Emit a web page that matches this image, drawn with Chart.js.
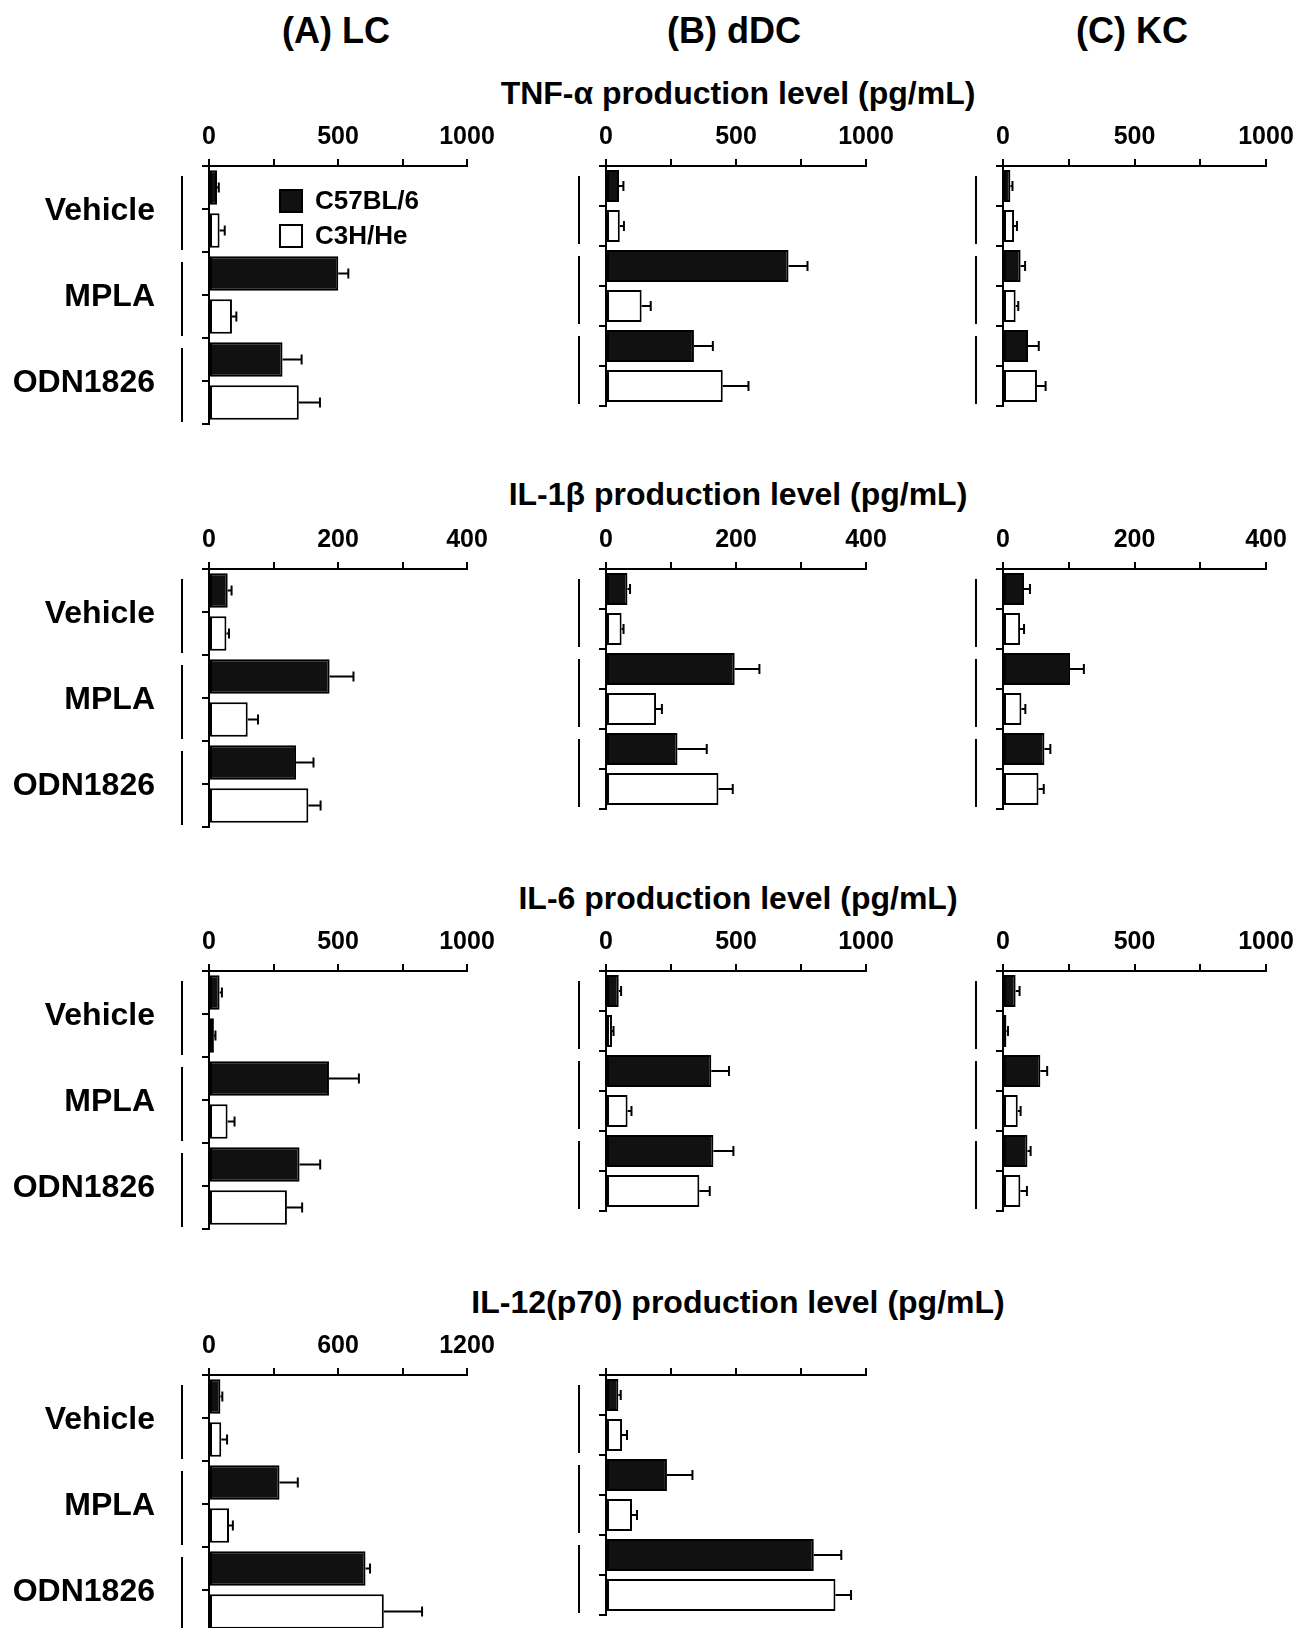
<!DOCTYPE html>
<html>
<head>
<meta charset="utf-8">
<script src="https://cdn.jsdelivr.net/npm/chart.js@4.4.0/dist/chart.umd.min.js"></script>
<style>
  body { margin: 0; background: #fff; }
  #page { position: relative; width: 1299px; height: 1628px; overflow: hidden;
          font-family: "Liberation Sans", Arial, sans-serif; font-weight: bold; color: #000; }
  .title { position: absolute; transform: translate(-50%, -50%); white-space: nowrap; line-height: 1; }
  canvas { position: absolute; }
</style>
</head>
<body>
<div id="page"></div>
<script>
const treatments = ['Vehicle', 'MPLA', 'ODN1826'];
const strains = ['C57BL/6', 'C3H/He'];
const cellTypes = ['(A) LC', '(B) dDC', '(C) KC'];
const cytokines = ['TNF-α production level (pg/mL)', 'IL-1β production level (pg/mL)',
                   'IL-6 production level (pg/mL)', 'IL-12(p70) production level (pg/mL)'];

// labelled x ticks for each cytokine row
const tnfTicks = [0, 500, 1000];
const il1bTicks = [0, 200, 400];
const il6Ticks = [0, 500, 1000];
const il12Ticks = [0, 600, 1200];

// mean and error per treatment (Vehicle, MPLA, ODN1826)
const tnfLcB6 = [31, 501, 285],   tnfLcB6Err = [7, 39, 74];
const tnfLcC3h = [41, 89, 348],   tnfLcC3hErr = [20, 17, 82];
const tnfDdcB6 = [50, 702, 338],  tnfDdcB6Err = [17, 73, 73];
const tnfDdcC3h = [53, 137, 449], tnfDdcC3hErr = [16, 35, 99];
const tnfKcB6 = [28, 67, 95],     tnfKcB6Err = [8, 17, 41];
const tnfKcC3h = [42, 48, 129],   tnfKcC3hErr = [11, 10, 33];

const il1bLcB6 = [29, 187, 135],  il1bLcB6Err = [6, 37, 27];
const il1bLcC3h = [27, 60, 154],  il1bLcC3hErr = [4, 16, 19];
const il1bDdcB6 = [33, 198, 110], il1bDdcB6Err = [4, 38, 45];
const il1bDdcC3h = [24, 77, 173], il1bDdcC3hErr = [3, 9, 22];
const il1bKcB6 = [32, 102, 63],   il1bKcB6Err = [9, 21, 9];
const il1bKcC3h = [26, 28, 54],   il1bKcC3hErr = [6, 6, 8];

const il6LcB6 = [41, 465, 351],   il6LcB6Err = [9, 116, 80];
const il6LcC3h = [19, 72, 302],   il6LcC3hErr = [6, 27, 59];
const il6DdcB6 = [49, 405, 413],  il6DdcB6Err = [9, 68, 77];
const il6DdcC3h = [23, 83, 359],  il6DdcC3hErr = [6, 15, 40];
const il6KcB6 = [48, 142, 93],    il6KcB6Err = [15, 26, 12];
const il6KcC3h = [13, 56, 66],    il6KcC3hErr = [6, 11, 25];

const il12LcB6 = [53, 328, 728],   il12LcB6Err = [9, 85, 21];
const il12LcC3h = [57, 93, 813],   il12LcC3hErr = [27, 18, 178];
const il12DdcB6 = [57, 281, 959],  il12DdcB6Err = [11, 118, 127];
const il12DdcC3h = [74, 120, 1059], il12DdcC3hErr = [23, 23, 72];

// page layout
const family = '"Liberation Sans", Arial, sans-serif';
const colLeft = [209, 606, 1003];
const colRight = [467, 866, 1266];
const colHeight = [258, 240, 240];
const rowTop = [166, 569, 971, 1375];
const colTitleX = [336, 734, 1132];
const rowTitleY = [93, 494, 898, 1302];

const panels = [
  { row: 0, col: 0, ticks: tnfTicks, b6: tnfLcB6, b6Err: tnfLcB6Err, c3h: tnfLcC3h, c3hErr: tnfLcC3hErr },
  { row: 0, col: 1, ticks: tnfTicks, b6: tnfDdcB6, b6Err: tnfDdcB6Err, c3h: tnfDdcC3h, c3hErr: tnfDdcC3hErr },
  { row: 0, col: 2, ticks: tnfTicks, b6: tnfKcB6, b6Err: tnfKcB6Err, c3h: tnfKcC3h, c3hErr: tnfKcC3hErr },
  { row: 1, col: 0, ticks: il1bTicks, b6: il1bLcB6, b6Err: il1bLcB6Err, c3h: il1bLcC3h, c3hErr: il1bLcC3hErr },
  { row: 1, col: 1, ticks: il1bTicks, b6: il1bDdcB6, b6Err: il1bDdcB6Err, c3h: il1bDdcC3h, c3hErr: il1bDdcC3hErr },
  { row: 1, col: 2, ticks: il1bTicks, b6: il1bKcB6, b6Err: il1bKcB6Err, c3h: il1bKcC3h, c3hErr: il1bKcC3hErr },
  { row: 2, col: 0, ticks: il6Ticks, b6: il6LcB6, b6Err: il6LcB6Err, c3h: il6LcC3h, c3hErr: il6LcC3hErr },
  { row: 2, col: 1, ticks: il6Ticks, b6: il6DdcB6, b6Err: il6DdcB6Err, c3h: il6DdcC3h, c3hErr: il6DdcC3hErr },
  { row: 2, col: 2, ticks: il6Ticks, b6: il6KcB6, b6Err: il6KcB6Err, c3h: il6KcC3h, c3hErr: il6KcC3hErr },
  { row: 3, col: 0, ticks: il12Ticks, b6: il12LcB6, b6Err: il12LcB6Err, c3h: il12LcC3h, c3hErr: il12LcC3hErr },
  { row: 3, col: 1, ticks: il12Ticks, b6: il12DdcB6, b6Err: il12DdcB6Err, c3h: il12DdcC3h, c3hErr: il12DdcC3hErr, noLabels: true }
];

const page = document.getElementById('page');

function addTitle(text, x, y, size) {
  const d = document.createElement('div');
  d.className = 'title';
  d.textContent = text;
  d.style.left = x + 'px';
  d.style.top = y + 'px';
  d.style.fontSize = size + 'px';
  page.appendChild(d);
}
cellTypes.forEach((t, i) => addTitle(t, colTitleX[i], 31, 36));
cytokines.forEach((t, i) => addTitle(t, 738, rowTitleY[i], 32));

// one-sided error bars from the bar end
const errorBars = {
  id: 'errorBars',
  afterDatasetsDraw(chart) {
    const ctx = chart.ctx, xs = chart.scales.x;
    ctx.save();
    ctx.strokeStyle = '#000';
    ctx.lineWidth = 2;
    chart.data.datasets.forEach((ds, di) => {
      chart.getDatasetMeta(di).data.forEach((bar, i) => {
        const x1 = xs.getPixelForValue(ds.data[i] + ds.err[i]);
        ctx.beginPath();
        ctx.moveTo(bar.x, bar.y);
        ctx.lineTo(x1, bar.y);
        ctx.moveTo(x1, bar.y - 5);
        ctx.lineTo(x1, bar.y + 5);
        ctx.stroke();
      });
    });
    ctx.restore();
  }
};

// tick marks at every bar slot and the bracket line of each treatment
const groupTicks = {
  id: 'groupTicks',
  afterDraw(chart) {
    const ys = chart.scales.y, left = chart.chartArea.left, ctx = chart.ctx;
    const half = (ys.getPixelForTick(1) - ys.getPixelForTick(0)) / 2;
    ctx.save();
    ctx.strokeStyle = '#000';
    ctx.lineWidth = 2;
    ctx.beginPath();
    treatments.forEach((t, i) => {
      const c = ys.getPixelForTick(i);
      [c - half, c, c + half].forEach(y => { ctx.moveTo(left - 7, y); ctx.lineTo(left, y); });
      ctx.moveTo(left - 27, c - half + 10);
      ctx.lineTo(left - 27, c + half - 2);
    });
    ctx.stroke();
    ctx.restore();
  }
};

const strainKey = {
  id: 'strainKey',
  afterDraw(chart, args, opts) {
    if (!opts.show) return;
    const {left, top} = chart.chartArea, ctx = chart.ctx;
    ctx.save();
    ctx.font = 'bold 26px ' + family;
    ctx.textBaseline = 'middle';
    chart.data.datasets.forEach((ds, i) => {
      const y = top + 23 + i * 35;
      ctx.fillStyle = ds.backgroundColor;
      ctx.fillRect(left + 70, y, 24, 24);
      ctx.strokeStyle = '#000';
      ctx.lineWidth = 2;
      ctx.strokeRect(left + 71, y + 1, 22, 22);
      ctx.fillStyle = '#000';
      ctx.fillText(ds.label, left + 106, y + 13);
    });
    ctx.restore();
  }
};

function makePanel(p) {
  const leftW = p.col === 0 ? 209 : 45;
  const topH = 60, rightPad = 40, bottomPad = 6;
  const canvas = document.createElement('canvas');
  canvas.width = leftW + (colRight[p.col] - colLeft[p.col]) + rightPad;
  canvas.height = topH + colHeight[p.col] + bottomPad;
  canvas.style.left = (colLeft[p.col] - leftW) + 'px';
  canvas.style.top = (rowTop[p.row] - topH) + 'px';
  page.appendChild(canvas);
  const max = p.ticks[p.ticks.length - 1];

  new Chart(canvas, {
    type: 'bar',
    data: {
      labels: treatments,
      datasets: [
        { label: strains[0], data: p.b6, err: p.b6Err, backgroundColor: '#111',
          borderColor: '#000', borderWidth: 2, borderSkipped: false },
        { label: strains[1], data: p.c3h, err: p.c3hErr, backgroundColor: '#fff',
          borderColor: '#000', borderWidth: 2, borderSkipped: false }
      ]
    },
    options: {
      indexAxis: 'y',
      responsive: false,
      animation: false,
      events: [],
      layout: { padding: { left: 0, top: 0, right: rightPad, bottom: bottomPad } },
      datasets: { bar: { categoryPercentage: 1, barPercentage: 0.8 } },
      plugins: {
        legend: { display: false },
        tooltip: { enabled: false },
        strainKey: { show: p.row === 0 && p.col === 0 }
      },
      scales: {
        x: {
          type: 'linear',
          position: 'top',
          min: 0,
          max: max,
          afterFit: s => { s.height = topH; s.paddingLeft = 0; s.paddingRight = 0; },
          grid: { drawOnChartArea: false, color: '#000', lineWidth: 2, tickLength: 7 },
          border: { color: '#000', width: 2 },
          ticks: {
            display: !p.noLabels,
            stepSize: max / 4,
            autoSkip: false,
            maxRotation: 0,
            padding: 7,
            color: '#000',
            font: { family: family, size: 25, weight: 'bold' },
            callback: v => p.ticks.includes(v) ? v : ''
          }
        },
        y: {
          type: 'category',
          position: 'left',
          afterFit: s => { s.width = leftW; s.paddingTop = 0; s.paddingBottom = 0; },
          grid: { display: false, drawTicks: false },
          border: { color: '#000', width: 2 },
          ticks: {
            display: p.col === 0,
            padding: 54,
            labelOffset: 2,
            color: '#000',
            font: { family: family, size: 32, weight: 'bold' }
          }
        }
      }
    },
    plugins: [errorBars, groupTicks, strainKey]
  });
}

panels.forEach(makePanel);
</script>
</body>
</html>
